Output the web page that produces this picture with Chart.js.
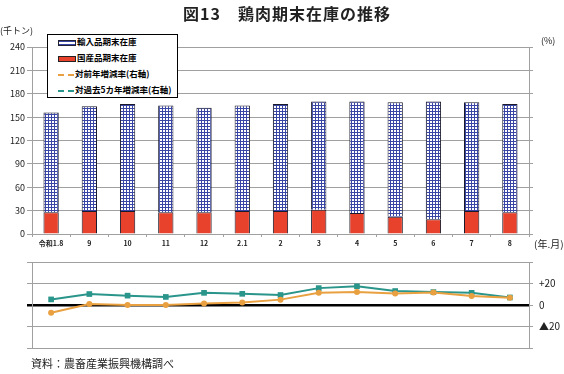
<!DOCTYPE html>
<html lang="ja">
<head>
<meta charset="UTF-8">
<title>図13 鶏肉期末在庫の推移</title>
<script src="https://cdn.jsdelivr.net/npm/chart.js@4"></script>
<style>
    body { margin: 0; background: #fff; font-family: "Noto Sans CJK JP", sans-serif; }
    .wrap { position: relative; width: 564px; height: 374px; overflow: hidden; }
    .wrap canvas { position: absolute; left: 0; }
    .txt { position: absolute; white-space: nowrap; color: #222; }
    .title { top: 1px; left: 183px; font-size: 16px; font-weight: bold; letter-spacing: 1px; }
    .legend {
        position: absolute; left: 47px; top: 34px; width: 129px; height: 62px;
        border: 1px solid #000; background: #fff; font-size: 8.5px; font-weight: bold;
    }
    .legend div { position: absolute; left: 10px; height: 10px; line-height: 10px; }
    .legend span.sw { display: inline-block; width: 16px; height: 4px; vertical-align: middle; margin-right: 1px; }
</style>
</head>
<body>
<div class="wrap">
    <canvas id="topChart" width="564" height="250" style="top:0"></canvas>
    <canvas id="lineChart" width="564" height="110" style="top:250px"></canvas>

    <div class="txt title">図13　鶏肉期末在庫の推移</div>
    <div class="txt" style="left:0;top:24px;font-size:9px;">(千トン)</div>
    <div class="txt" style="left:541px;top:34px;font-size:9px;">(%)</div>
    <div class="txt" style="left:534px;top:236px;font-size:10px;">(年.月)</div>
    <div class="txt" style="left:31px;top:355px;font-size:11px;">資料：農畜産業振興機構調べ</div>

    <div class="legend">
        <div style="top:1px"><span class="sw" id="swImp" style="border:1px solid #223;"></span>輸入品期末在庫</div>
        <div style="top:17px"><span class="sw" style="background:#e8412c;border:1px solid #222;"></span>国産品期末在庫</div>
        <div style="top:33px"><span class="sw" style="height:0;border-top:2px dashed #e9a040;"></span>対前年増減率(右軸)</div>
        <div style="top:49px"><span class="sw" style="height:0;border-top:2px dashed #2a958a;"></span>対過去5カ年増減率(右軸)</div>
    </div>
</div>

<script>
    // categories (year.month)
    const labels = ['令和1.8', '9', '10', '11', '12', '2.1', '2', '3', '4', '5', '6', '7', '8'];

    // stocks, thousand tonnes
    const domestic = [28, 29.5, 29.5, 28, 28, 29.5, 29.5, 31, 27, 22, 19, 29.5, 28];
    const imported = [128, 134.5, 137.5, 137, 134, 135.5, 137.5, 139, 143, 147, 151, 139.5, 139];

    // change rates, %
    const yoy = [-7.2, 0.9, 0, 0, 1.5, 2.3, 5, 11.3, 12, 10.8, 11.6, 8.4, 6.7];
    const vs5yr = [5.2, 10.2, 8.7, 7.5, 11.3, 10.4, 9.3, 15.7, 17.4, 13, 12, 11.3, 7];

    const leftTicks = [0, 30, 60, 90, 120, 150, 180, 210, 240];
    const rightTicks = [-40, -20, 0, 20, 40];

    const font = '"Noto Sans CJK JP", sans-serif';
    const gridColor = '#a0a0a0';
    const hatchBlue = '#3a46a6';

    // grid hatch for imported bars
    function makeHatch() {
        const c = document.createElement('canvas');
        c.width = 3; c.height = 3;
        const g = c.getContext('2d');
        g.fillStyle = '#ffffff';
        g.fillRect(0, 0, 3, 3);
        g.fillStyle = hatchBlue;
        g.fillRect(0, 0, 3, 1);
        g.fillRect(0, 0, 1, 3);
        return g.createPattern(c, 'repeat');
    }
    const hatch = makeHatch();
    document.getElementById('swImp').style.background =
        'repeating-linear-gradient(0deg,' + hatchBlue + ' 0 1px,#fff 1px 3px),#fff';

    new Chart(document.getElementById('topChart'), {
        type: 'bar',
        data: {
            labels: labels,
            datasets: [
                {
                    label: '国産品期末在庫',
                    data: domestic,
                    backgroundColor: '#e8412c',
                    borderColor: '#1a1a2a',
                    borderWidth: 1
                },
                {
                    label: '輸入品期末在庫',
                    data: imported,
                    backgroundColor: hatch,
                    borderColor: '#1a1a2a',
                    borderWidth: 1
                }
            ]
        },
        options: {
            responsive: false,
            animation: false,
            layout: { padding: { top: 47, left: 0, right: 0, bottom: 0 } },
            plugins: { legend: { display: false }, tooltip: { enabled: false } },
            datasets: { bar: { barPercentage: 0.4, categoryPercentage: 1 } },
            scales: {
                x: {
                    stacked: true,
                    offset: true,
                    grid: { offset: true, drawOnChartArea: false, drawTicks: true, tickLength: 3, color: gridColor },
                    border: { display: false },
                    ticks: { font: { family: font, size: 7, weight: 'bold' }, color: '#222', padding: 2, maxRotation: 0 },
                    afterFit: s => { s.height = 16; }
                },
                y: {
                    stacked: true,
                    min: 0, max: 240,
                    afterBuildTicks: s => { s.ticks = leftTicks.map(v => ({ value: v })); },
                    grid: { color: gridColor, tickLength: 5 },
                    border: { color: gridColor },
                    ticks: { font: { family: font, size: 9 }, color: '#222', padding: 2 },
                    afterFit: s => { s.width = 32; }
                },
                y2: {
                    position: 'right',
                    min: 0, max: 240,
                    afterBuildTicks: s => { s.ticks = leftTicks.map(v => ({ value: v })); },
                    grid: { drawOnChartArea: false, color: gridColor, tickLength: 4 },
                    border: { color: gridColor },
                    ticks: { callback: () => '' },
                    afterFit: s => { s.width = 35; }
                }
            }
        }
    });

    new Chart(document.getElementById('lineChart'), {
        type: 'line',
        data: {
            labels: labels,
            datasets: [
                {
                    label: '対前年増減率(右軸)',
                    data: yoy,
                    yAxisID: 'yr',
                    borderColor: '#e9a040',
                    backgroundColor: '#e9a040',
                    borderWidth: 2,
                    pointStyle: 'circle',
                    pointRadius: 3,
                    pointBorderWidth: 0
                },
                {
                    label: '対過去5カ年増減率(右軸)',
                    data: vs5yr,
                    yAxisID: 'yr',
                    borderColor: '#2a958a',
                    backgroundColor: '#2a958a',
                    borderWidth: 2,
                    pointStyle: 'rect',
                    pointRadius: 4,
                    pointBorderWidth: 0
                }
            ]
        },
        options: {
            responsive: false,
            animation: false,
            layout: { padding: { top: 8, left: 0, right: 0, bottom: 10 } },
            plugins: { legend: { display: false }, tooltip: { enabled: false } },
            scales: {
                x: { display: false, offset: true },
                yl: {
                    position: 'left',
                    min: -40, max: 40,
                    afterBuildTicks: s => { s.ticks = rightTicks.map(v => ({ value: v })); },
                    grid: {
                        color: c => c.tick && c.tick.value === 0 ? '#000' : gridColor,
                        lineWidth: c => c.tick && c.tick.value === 0 ? 2.5 : 1,
                        tickLength: 5
                    },
                    border: { color: gridColor },
                    ticks: { callback: () => '' },
                    afterFit: s => { s.width = 32; }
                },
                yr: {
                    position: 'right',
                    min: -40, max: 40,
                    afterBuildTicks: s => { s.ticks = rightTicks.map(v => ({ value: v })); },
                    grid: { drawOnChartArea: false, color: gridColor, tickLength: 4 },
                    border: { color: gridColor },
                    ticks: {
                        font: { family: font, size: 10 },
                        color: '#222',
                        padding: 6,
                        callback: v => v === 20 ? '+20' : v === 0 ? '0' : v === -20 ? '▲20' : ''
                    },
                    afterFit: s => { s.width = 35; }
                }
            }
        }
    });
</script>
</body>
</html>
